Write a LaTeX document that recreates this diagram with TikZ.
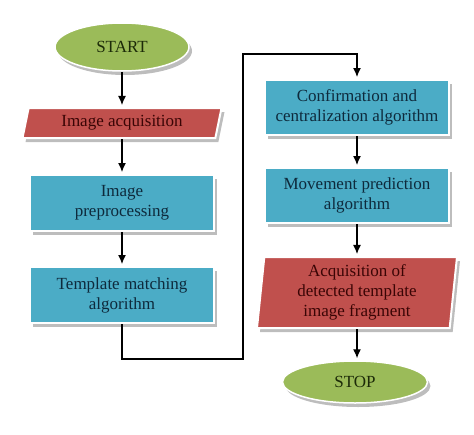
\documentclass[tikz,border=0pt]{standalone}
\usepackage{fontspec}
\setmainfont{Liberation Serif}
\usepackage{tikz}
\usetikzlibrary{shapes.geometric,shadows,arrows.meta}

\definecolor{termgreen}{HTML}{9BBB59}
\definecolor{iored}{HTML}{C0504D}
\definecolor{procblue}{HTML}{4BACC6}
\definecolor{iotext}{HTML}{3A0505}
\definecolor{proctext}{HTML}{0E2A3C}
\definecolor{termtext}{HTML}{1C2A08}

\begin{document}
\begin{tikzpicture}[x=1pt,y=-1pt,thick,
  font=\fontsize{17}{20}\selectfont,
  boxshadow/.style={drop shadow={shadow xshift=3pt,shadow yshift=-4pt,fill=black!32,opacity=.8}},
  term/.style={ellipse,fill=termgreen,draw=white,line width=1.5pt,text=termtext,boxshadow},
  proc/.style={rectangle,fill=procblue,draw=white,line width=2pt,text=proctext,align=center,
    minimum width=184pt,minimum height=56pt,inner sep=2pt,boxshadow},
  io/.style={trapezium,trapezium stretches body,fill=iored,draw=white,line width=2pt,text=iotext,
    align=center,inner sep=2pt,boxshadow},
  flow/.style={-{Latex[length=9pt,width=8pt]},black,line width=1.2pt,shorten >=2pt}]
\useasboundingbox (0,0) rectangle (474,434);

% left column
\node[term,minimum width=134pt,minimum height=48pt] (start) at (122,47) {START};
\node[io,trapezium left angle=72,trapezium right angle=108,minimum width=199pt,minimum height=30pt]
  (acqimg) at (122,123) {Image acquisition};
\node[proc] (prep) at (122,203) {Image\\preprocessing};
\node[proc] (match) at (122,295) {Template matching\\algorithm};

% right column
\node[proc,minimum height=55pt] (confirm) at (357,107.5) {Confirmation and\\centralization algorithm};
\node[proc,minimum height=55pt] (predict) at (357,195.5) {Movement prediction\\algorithm};
\node[io,trapezium left angle=83,trapezium right angle=97,minimum width=200pt,minimum height=71pt]
  (acqfrag) at (357,292.5) {Acquisition of\\detected template\\image fragment};
\node[term,minimum width=145pt,minimum height=42pt] (stop) at (355,382) {STOP};

% connectors
\coordinate (low) at (243,359);
\coordinate (high) at (243,54);
\draw[flow] (start) -- (acqimg);
\draw[flow] (acqimg) -- (prep);
\draw[flow] (prep) -- (match);
\draw[flow] (match.south) |- (low) -- (high) -| (confirm.north);
\draw[flow] (confirm) -- (predict);
\draw[flow] (predict) -- (acqfrag);
\draw[flow] (acqfrag.south) -- (acqfrag.south |- stop.north);
\end{tikzpicture}
\end{document}
